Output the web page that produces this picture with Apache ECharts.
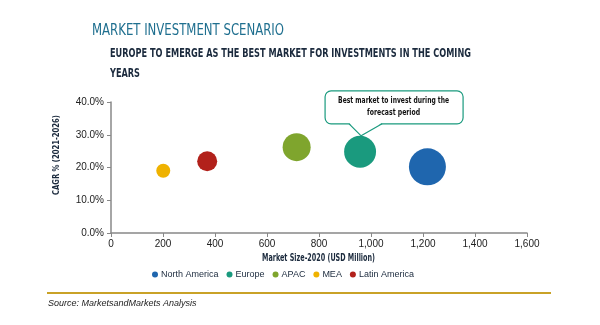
<!DOCTYPE html>
<html><head><meta charset="utf-8">
<script src="https://cdn.jsdelivr.net/npm/echarts@6/dist/echarts.min.js"></script>
<style>html,body{margin:0;padding:0;background:#fff}#c{width:600px;height:325px}</style>
</head><body><div id="c"></div>
<script>
const regions = ["North America", "Europe", "APAC", "MEA", "Latin America"];
const marketSize2020 = [1217, 958, 714, 201, 370];
const cagr = [20.2, 24.8, 26.2, 19.0, 21.9];
const bubbleValue = [1370, 1020, 785, 196, 400];
const colors = ["#1f66ae", "#1a9a7e", "#7fa52d", "#efb200", "#b2211b"];
const xTicks = [0, 200, 400, 600, 800, 1000, 1200, 1400, 1600];
const yTicks = [0, 10, 20, 30, 40];

const narrow = '"DejaVu Sans Condensed","Liberation Sans Narrow",sans-serif';
const arial = '"Liberation Sans",Arial,sans-serif';
const mctx = document.createElement('canvas').getContext('2d');
function fit(text, font, w) { mctx.font = font; return w / mctx.measureText(text).width; }
function label(text, font, fill, x, y, w, extra) {
  return Object.assign({ type: 'text', x: x, y: y, scaleX: fit(text, font, w), z: 11,
    style: Object.assign({ text: text, font: font, fill: fill }, (extra && extra.style) || {}) },
    extra ? { rotation: extra.rotation || 0 } : {});
}

const chart = echarts.init(document.getElementById('c'));
const series = regions.map((r, i) => ({
  name: r, type: 'scatter',
  data: [[marketSize2020[i], cagr[i], bubbleValue[i]]],
  symbolSize: d => Math.sqrt(d[2]),
  itemStyle: { color: colors[i], opacity: 1 },
  emphasis: { disabled: true }
}));
chart.setOption({
  animation: false,
  grid: { left: 111, right: 73, top: 102, bottom: 92 },
  xAxis: {
    type: 'value', min: xTicks[0], max: xTicks[xTicks.length - 1], interval: xTicks[1] - xTicks[0],
    axisLine: { lineStyle: { color: '#888', width: 1.5 } },
    axisTick: { show: true, length: 4, lineStyle: { color: '#888' } },
    axisLabel: { color: '#222', fontSize: 10, fontFamily: arial, margin: 6,
      formatter: v => v.toLocaleString('en-US') },
    splitLine: { show: false }
  },
  yAxis: {
    type: 'value', min: yTicks[0], max: yTicks[yTicks.length - 1], interval: yTicks[1] - yTicks[0],
    axisLine: { show: true, lineStyle: { color: '#888', width: 1.5 } },
    axisTick: { show: true, length: 4, lineStyle: { color: '#888' } },
    axisLabel: { color: '#222', fontSize: 10, fontFamily: arial, margin: 7,
      formatter: v => v.toFixed(1) + '%' },
    splitLine: { show: false }
  },
  legend: {
    data: regions, left: 147, top: 265, icon: 'circle', itemWidth: 6, itemHeight: 6, itemGap: 8,
    textStyle: { fontFamily: arial, fontSize: 9, color: '#1b2a3d', padding: [0, 0, 0, -2] }
  },
  series: series
});

const ei = regions.indexOf('Europe');
const p = chart.convertToPixel({ seriesIndex: ei }, [marketSize2020[ei], cagr[ei]]);
const r = Math.sqrt(bubbleValue[ei]) / 2;
const tx = p[0] + 1, ty = p[1] - r;
const L = tx - 36, R = tx + 102, T = ty - 45, B = ty - 12;
const cx = (L + R) / 2;
const bold9 = 'bold 9px ' + narrow;
chart.setOption({
  graphic: [
    label('MARKET INVESTMENT SCENARIO', '16px ' + narrow, '#1f6f8f', 92, 23, 192),
    label('EUROPE TO EMERGE AS THE BEST MARKET FOR INVESTMENTS IN THE COMING', 'bold 12px ' + narrow, '#1b2a3d', 110, 48, 361),
    label('YEARS', 'bold 12px ' + narrow, '#1b2a3d', 110, 68, 30),
    label('Market Size-2020 (USD Million)', 'bold 10px ' + narrow, '#1b2a3d', 262, 253, 113),
    label('CAGR % (2021-2026)', 'bold 9px ' + narrow, '#1b2a3d', 57, 155, 80,
      { rotation: Math.PI / 2, style: { align: 'center', verticalAlign: 'middle' } }),
    { type: 'text', x: 48, y: 299, style: { text: 'Source: MarketsandMarkets Analysis', font: 'italic 9px ' + arial, fill: '#222' } },
    { type: 'rect', shape: { x: L, y: T, width: R - L, height: B - T, r: 6 }, style: { fill: '#fff', stroke: '#1a9a7e', lineWidth: 1.2 }, z: 10 },
    { type: 'polygon', shape: { points: [[tx - 12, B - 1], [tx, ty], [tx + 21, B - 1]] }, style: { fill: '#fff' }, z: 10 },
    { type: 'polyline', shape: { points: [[tx - 12, B], [tx, ty], [tx + 21, B]] }, style: { stroke: '#1a9a7e', lineWidth: 1.2, fill: null }, z: 10 },
    label('Best market to invest during the', bold9, '#111', cx - 56, T + 5, 111),
    label('forecast period', bold9, '#111', cx - 27, T + 17, 53),
    { type: 'line', shape: { x1: 47, y1: 293, x2: 551, y2: 293 }, style: { stroke: '#c9a227', lineWidth: 2 } }
  ]
});
</script></body></html>
